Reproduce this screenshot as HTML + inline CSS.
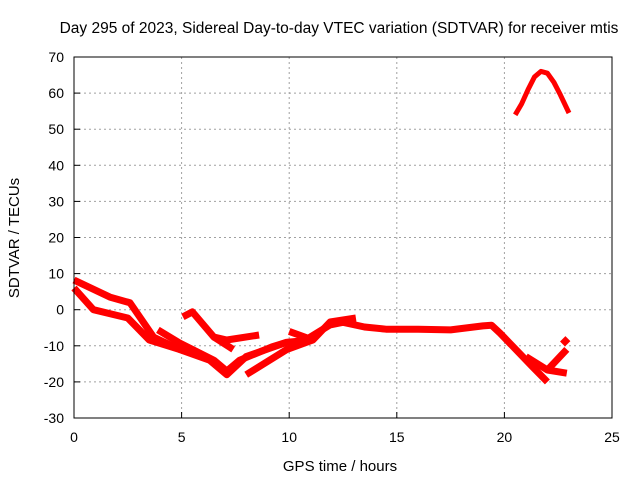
<!DOCTYPE html>
<html><head><meta charset="utf-8"><style>
body{margin:0;background:#fff;font-family:"Liberation Sans",sans-serif}
svg text{font-family:"Liberation Sans",sans-serif;font-size:14px;fill:#000}
</style></head><body>
<svg id="chart" width="640" height="480" viewBox="0 0 640 480" xmlns="http://www.w3.org/2000/svg">
<text x="339" y="33" text-anchor="middle" style="font-size:15.5px">Day 295 of 2023, Sidereal Day-to-day VTEC variation (SDTVAR) for receiver mtis</text>
<g id="grid"></g>
<g id="ticks"></g>
<g id="series"></g>
<rect x="74" y="57" width="538" height="361" fill="none" stroke="#000" stroke-width="1"/>
<text x="340" y="471" text-anchor="middle" style="font-size:15px">GPS time / hours</text>
<text transform="translate(19,238) rotate(-90)" text-anchor="middle" style="font-size:15px">SDTVAR / TECUs</text>
</svg>
<script>
const xTicks=[0,5,10,15,20,25];
const yTicks=[-30,-20,-10,0,10,20,30,40,50,60,70];
const track1Hours=[0,1.67,2.6,3.7,4.9,6.3,7.1,8,9.9,11.1,11.9,13.1];
const track1Vals=[8.2,3.5,1.9,-7.6,-11,-14,-18,-13,-9,-8.4,-3.4,-2.3];
const track2Hours=[0,0.9,2.5,3.5,4.9];
const track2Vals=[6,0,-2.3,-8.4,-11];
const track3Hours=[3.9,4.9,6.5,7.1,7.7,9.2,9.9];
const track3Vals=[-5.6,-9.2,-14,-17,-14,-10.3,-9];
const track4Hours=[5.06,5.5,6.5,7.1,8.6];
const track4Vals=[-2,-0.6,-7.6,-8.4,-7];
const track5Hours=[6.5,7.4];
const track5Vals=[-7.6,-11];
const track6Hours=[8,9.9,11.1];
const track6Vals=[-18,-11,-8.4];
const track7Hours=[10,11.1];
const track7Vals=[-6,-8.4];
const track8Hours=[10.5,11.9,12.5,13.5,14.5,16,17.5,19,19.4,19.8,21.3,22];
const track8Vals=[-9.3,-4.2,-3.5,-4.8,-5.4,-5.4,-5.6,-4.5,-4.3,-6.5,-15.8,-20];
const track9Hours=[21,22,22.9];
const track9Vals=[-13,-16.7,-17.6];
const track10Hours=[22,22.9];
const track10Vals=[-16.7,-11];
const track11Hours=[22.7,22.95];
const track11Vals=[-9.5,-8];
const peakHours=[20.5,20.8,21.1,21.4,21.7,22.0,22.3,22.6,23];
const peakVals=[54,57,61,64.5,66,65.5,63,59.5,54.5];
const X0=74,X1=612,Y0=418,Y1=57;
const sx=h=>X0+(h-0)/25*(X1-X0);
const sy=v=>Y0-(v+30)/100*(Y0-Y1);
const NS="http://www.w3.org/2000/svg";
const grid=document.getElementById('grid'),ticks=document.getElementById('ticks'),ser=document.getElementById('series');
function mk(t,a,p){const e=document.createElementNS(NS,t);for(const k in a)e.setAttribute(k,a[k]);p.appendChild(e);return e;}
xTicks.forEach(t=>{
  const x=sx(t);
  if(t>0&&t<25){const g=mk('line',{x1:x,x2:x,y1:Y1,y2:Y0,stroke:'#a0a0a0','stroke-dasharray':'2,3'},grid);
  
  }
  const tl=mk('line',{x1:x,x2:x,y1:Y0,y2:Y0-6,stroke:'#000'},ticks);
  
  
  const tx=mk('text',{x:x,y:Y0+24,'text-anchor':'middle'},ticks);tx.textContent=t;
  
  
});
yTicks.forEach(t=>{
  const y=sy(t);
  if(t>-30&&t<70){const g=mk('line',{x1:X0,x2:X1,y1:y,y2:y,stroke:'#a0a0a0','stroke-dasharray':'2,3'},grid);
  
  }
  const tl=mk('line',{x1:X0,x2:X0+6,y1:y,y2:y,stroke:'#000'},ticks);
  
  
  const tx=mk('text',{x:X0-10,y:y+5,'text-anchor':'end'},ticks);tx.textContent=t;
  
  
});
const tracks=[[track1Hours,track1Vals],[track2Hours,track2Vals],[track3Hours,track3Vals],[track4Hours,track4Vals],[track5Hours,track5Vals],[track6Hours,track6Vals],[track7Hours,track7Vals],[track8Hours,track8Vals],[track9Hours,track9Vals],[track10Hours,track10Vals],[track11Hours,track11Vals],[peakHours,peakVals]];
tracks.forEach((tr,i)=>{
  const pts=tr[0].map((h,j)=>sx(h).toFixed(1)+','+sy(tr[1][j]).toFixed(1)).join(' ');
  const p=mk('polyline',{points:pts,fill:'none',stroke:'#ff0000','stroke-width':(i===11?5:7),'stroke-linejoin':'round','stroke-linecap':'butt'},ser);
  
  
});
</script>
</body></html>
